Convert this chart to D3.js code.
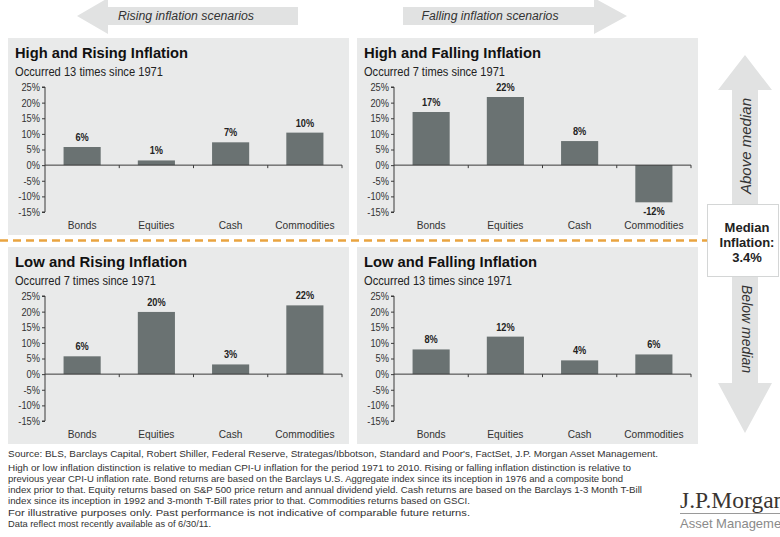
<!DOCTYPE html>
<html>
<head>
<meta charset="utf-8">
<script src="https://cdn.jsdelivr.net/npm/d3@7"></script>
<style>
  html, body { margin: 0; padding: 0; background: #ffffff; overflow: hidden; }
  svg { display: block; }
</style>
</head>
<body>
<svg id="chart" width="780" height="537"></svg>
<script>
// ---------------- DATA ----------------
const categories = ["Bonds", "Equities", "Cash", "Commodities"];
const panelTitles = ["High and Rising Inflation", "High and Falling Inflation", "Low and Rising Inflation", "Low and Falling Inflation"];
const panelSubtitles = ["Occurred 13 times since 1971", "Occurred 7 times since 1971", "Occurred 7 times since 1971", "Occurred 13 times since 1971"];
const highRisingValues  = [5.8, 1.5, 7.3, 10.4];
const highFallingValues = [17.0, 21.8, 7.7, -11.9];
const lowRisingValues   = [5.7, 19.9, 3.1, 22.0];
const lowFallingValues  = [7.9, 12.0, 4.4, 6.3];
const highRisingLabels  = ["6%", "1%", "7%", "10%"];
const highFallingLabels = ["17%", "22%", "8%", "-12%"];
const lowRisingLabels   = ["6%", "20%", "3%", "22%"];
const lowFallingLabels  = ["8%", "12%", "4%", "6%"];
const yTicks = [25, 20, 15, 10, 5, 0, -5, -10, -15];
const yDomain = [-15, 25];
const topArrowLabels = ["Rising inflation scenarios", "Falling inflation scenarios"];
const sideArrowLabels = ["Above median", "Below median"];
const medianLines = ["Median", "Inflation:", "3.4%"];
const footerLines = [
  "Source: BLS, Barclays Capital, Robert Shiller, Federal Reserve, Strategas/Ibbotson, Standard and Poor's, FactSet, J.P. Morgan Asset Management.",
  "High or low inflation distinction is relative to median CPI-U inflation for the period 1971 to 2010.  Rising or falling inflation distinction is relative to",
  "previous year CPI-U inflation rate. Bond returns are based on the Barclays U.S. Aggregate index since its inception in 1976 and a composite bond",
  "index prior to that. Equity returns based on S&P 500 price return and annual dividend yield. Cash returns are based on the Barclays 1-3 Month T-Bill",
  "index since its inception in 1992 and 3-month T-Bill rates prior to that. Commodities returns based on GSCI.",
  "For illustrative purposes only. Past performance is not indicative of comparable future returns.",
  "Data reflect most recently available as of 6/30/11."
];
const logoTexts = ["J.P.Morgan", "Asset Management"];

const panelValues = [highRisingValues, highFallingValues, lowRisingValues, lowFallingValues];
const panelLabels = [highRisingLabels, highFallingLabels, lowRisingLabels, lowFallingLabels];

// ---------------- STYLE ----------------
const SANS = "'Liberation Sans', Arial, sans-serif";
const SERIF = "'Liberation Serif', 'Times New Roman', serif";
const panelBg = "#e9eaea";
const barColor = "#6a7272";
const axisColor = "#3a3a3a";
const textColor = "#222";
const arrowFill = "#e1e2e2";

const svg = d3.select("#chart");

function fit(sel, target) {
  const node = sel.node();
  const w = node.getComputedTextLength();
  if (w > 0 && Math.abs(w - target) > 0.5) {
    sel.attr("textLength", target).attr("lengthAdjust", "spacingAndGlyphs");
  }
  return sel;
}
// condense a text horizontally by a factor (narrow-font look)
function condense(sel, k) {
  sel.each(function () {
    const w = this.getComputedTextLength();
    if (w > 0) d3.select(this).attr("textLength", w * k).attr("lengthAdjust", "spacingAndGlyphs");
  });
  return sel;
}

// ---------------- TOP ARROWS ----------------
const leftArrow = [[77,16],[108,-2],[108,7],[298,7],[298,25],[108,25],[108,34]];
const rightArrow = [[627,16],[594,-2],[594,7],[403,7],[403,25],[594,25],[594,34]];
svg.append("polygon").attr("points", leftArrow.map(p => p.join(",")).join(" ")).attr("fill", arrowFill);
svg.append("polygon").attr("points", rightArrow.map(p => p.join(",")).join(" ")).attr("fill", arrowFill);
fit(svg.append("text").attr("x", 186).attr("y", 20).attr("text-anchor", "middle")
  .attr("font-family", SANS).attr("font-style", "italic").attr("font-size", 12.3).attr("fill", "#333")
  .text(topArrowLabels[0]), 136);
fit(svg.append("text").attr("x", 490).attr("y", 20).attr("text-anchor", "middle")
  .attr("font-family", SANS).attr("font-style", "italic").attr("font-size", 12.3).attr("fill", "#333")
  .text(topArrowLabels[1]), 137);

// ---------------- PANELS ----------------
const panelPos = [[8, 38], [357, 38], [8, 247], [357, 247]];
const PW = 341, PH = 197;
const axisX0 = 37, axisX1 = 334;

const x = d3.scaleBand().domain(categories).range([axisX0, axisX1]).paddingInner(0.5).paddingOuter(0.25);
const y = d3.scaleLinear().domain(yDomain).range([174, 49]);

panelPos.forEach((pos, i) => {
  const g = svg.append("g").attr("transform", `translate(${pos[0]},${pos[1]})`);
  g.append("rect").attr("width", PW).attr("height", PH).attr("fill", panelBg);

  fit(g.append("text").attr("x", 7).attr("y", 20)
    .attr("font-family", SANS).attr("font-weight", "bold").attr("font-size", 14.7).attr("fill", "#111")
    .text(panelTitles[i]), [173, 177, 172, 173][i]);
  fit(g.append("text").attr("x", 7).attr("y", 38)
    .attr("font-family", SANS).attr("font-size", 12.8).attr("fill", textColor)
    .text(panelSubtitles[i]), [148, 141, 141, 148][i]);

  const vals = panelValues[i];
  const labs = panelLabels[i];

  // bars
  g.selectAll("rect.bar").data(categories).enter().append("rect")
    .attr("class", "bar")
    .attr("x", d => x(d))
    .attr("width", x.bandwidth())
    .attr("y", (d, j) => y(Math.max(0, vals[j])))
    .attr("height", (d, j) => Math.abs(y(vals[j]) - y(0)))
    .attr("fill", barColor);

  // value labels
  condense(g.selectAll("text.val").data(categories).enter().append("text")
    .attr("class", "val")
    .attr("x", d => x(d) + x.bandwidth() / 2)
    .attr("y", (d, j) => vals[j] >= 0 ? y(vals[j]) - 6 : y(vals[j]) + 13)
    .attr("text-anchor", "middle")
    .attr("font-family", SANS).attr("font-weight", "bold").attr("font-size", 10).attr("fill", "#222")
    .text((d, j) => labs[j]), 0.92);

  // y axis
  const yAxis = d3.axisLeft(y).tickValues(yTicks).tickSize(3).tickFormat(d => d + "%");
  const ya = g.append("g").attr("transform", `translate(${axisX0},0)`).call(yAxis);
  ya.select(".domain").attr("stroke", axisColor).attr("d", `M-3,${y(25)}H0V${y(-15)}H-3`);
  ya.selectAll(".tick line").attr("stroke", axisColor);
  condense(ya.selectAll(".tick text").attr("font-family", SANS).attr("font-size", 10.8).attr("fill", "#333").attr("x", -5), 0.86);

  // x axis at zero
  const xa = g.append("g").attr("transform", `translate(0,${y(0)})`);
  xa.append("line").attr("x1", axisX0).attr("x2", axisX1).attr("stroke", axisColor).attr("stroke-width", 1);
  const step = x.step();
  const boundaries = categories.map((c, j) => x(c) + x.bandwidth() + (step - x.bandwidth()) / 2);
  xa.selectAll("line.tk").data(boundaries).enter().append("line")
    .attr("class", "tk").attr("x1", d => d).attr("x2", d => d).attr("y1", 0).attr("y2", 3)
    .attr("stroke", axisColor);

  // category labels
  condense(g.selectAll("text.cat").data(categories).enter().append("text")
    .attr("class", "cat")
    .attr("x", d => x(d) + x.bandwidth() / 2)
    .attr("y", 191)
    .attr("text-anchor", "middle")
    .attr("font-family", SANS).attr("font-size", 11.3).attr("fill", "#333")
    .text(d => d), 0.9);
});

// ---------------- MEDIAN DIVIDER ----------------
svg.append("line").attr("x1", 0).attr("x2", 707).attr("y1", 240.5).attr("y2", 240.5)
  .attr("stroke", "#e9a440").attr("stroke-width", 2.5).attr("stroke-dasharray", "8,5");

// ---------------- SIDE ARROWS ----------------
const upArrow = [[745,55],[772,90],[758,90],[758,204],[732,204],[732,90],[718,90]];
const downArrow = [[745,433],[772,383],[758,383],[758,277],[732,277],[732,383],[718,383]];
svg.append("polygon").attr("points", upArrow.map(p => p.join(",")).join(" ")).attr("fill", arrowFill);
svg.append("polygon").attr("points", downArrow.map(p => p.join(",")).join(" ")).attr("fill", arrowFill);

fit(svg.append("text").attr("transform", "translate(746,146) rotate(-90)")
  .attr("text-anchor", "middle").attr("dominant-baseline", "central")
  .attr("font-family", SANS).attr("font-style", "italic").attr("font-size", 14).attr("fill", "#333")
  .text(sideArrowLabels[0]), 96);
fit(svg.append("text").attr("transform", "translate(747,329) rotate(90)")
  .attr("text-anchor", "middle").attr("dominant-baseline", "central")
  .attr("font-family", SANS).attr("font-style", "italic").attr("font-size", 14).attr("fill", "#333")
  .text(sideArrowLabels[1]), 88);

svg.append("rect").attr("x", 707.5).attr("y", 204.5).attr("width", 71).attr("height", 72)
  .attr("fill", "#ffffff").attr("stroke", "#d4d6d6").attr("stroke-width", 1);
svg.selectAll("text.median").data(medianLines).enter().append("text")
  .attr("class", "median")
  .attr("x", 747).attr("y", (d, i) => 232 + i * 15)
  .attr("text-anchor", "middle")
  .attr("font-family", SANS).attr("font-weight", "bold").attr("font-size", 13).attr("fill", "#222")
  .text(d => d);

// ---------------- FOOTER ----------------
const footerY = [457, 470.5, 481.5, 492.5, 503.5, 515.5, 526.5];
const footerW = [650, 623, 615, 634, 462, 462, 203];
footerLines.forEach((t, i) => {
  fit(svg.append("text").attr("x", 8).attr("y", footerY[i])
    .attr("font-family", SANS).attr("font-size", 9.8).attr("fill", "#333")
    .text(t), footerW[i]);
});

// ---------------- LOGO (clipped at right edge as in the reference) ----------------
svg.append("text").attr("x", 680).attr("y", 508)
  .attr("font-family", SERIF).attr("font-size", 23.5).attr("fill", "#3a3530")
  .text(logoTexts[0]);
svg.append("line").attr("x1", 680).attr("x2", 780).attr("y1", 513.5).attr("y2", 513.5)
  .attr("stroke", "#9a9a9a").attr("stroke-width", 1);
svg.append("text").attr("x", 680).attr("y", 528)
  .attr("font-family", SANS).attr("font-size", 13).attr("fill", "#8a8a8a")
  .text(logoTexts[1]);
</script>
</body>
</html>
